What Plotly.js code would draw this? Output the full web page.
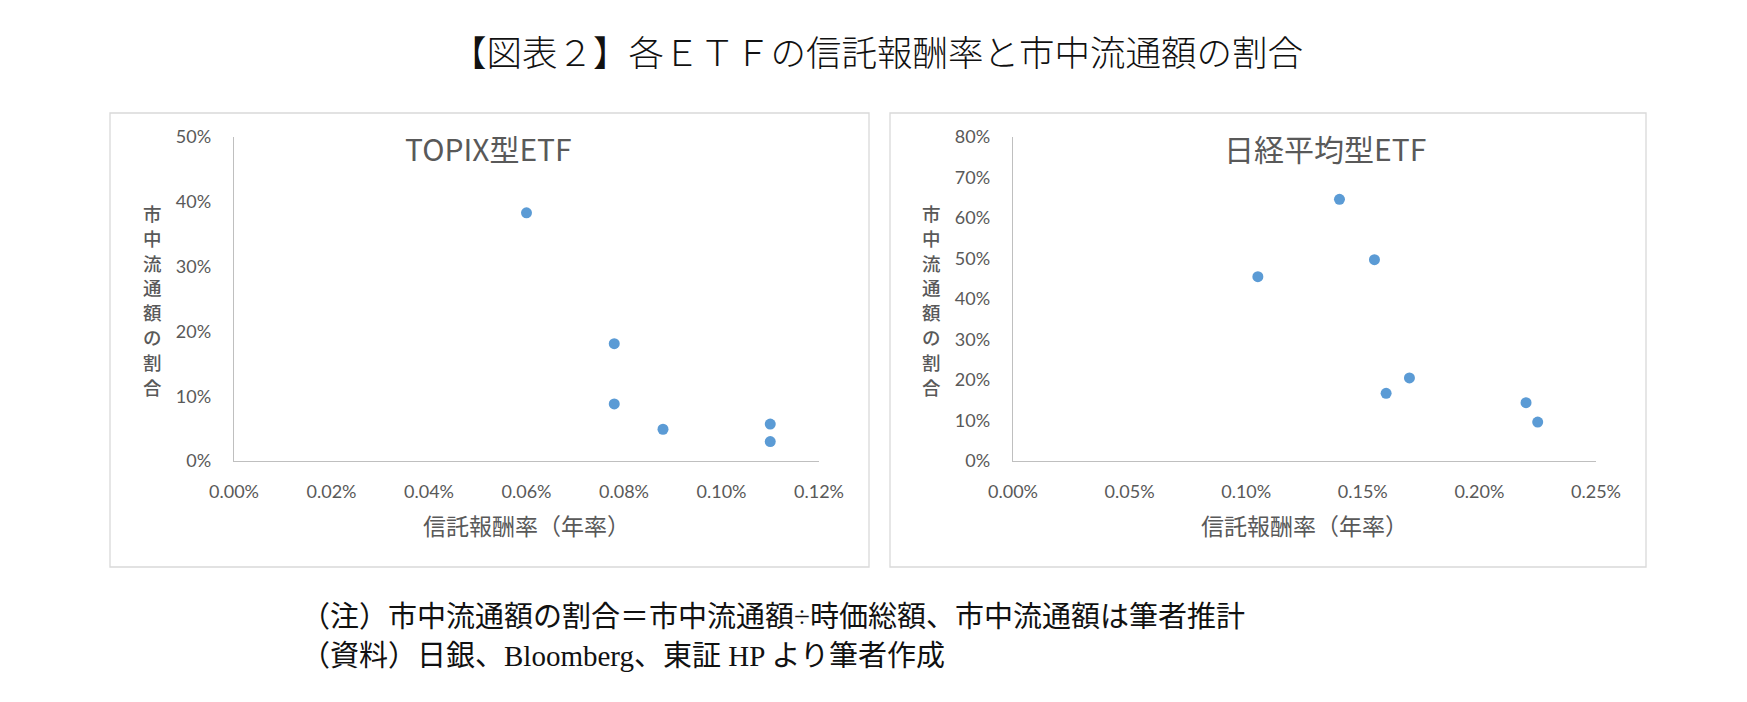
<!DOCTYPE html>
<html>
<head>
<meta charset="utf-8">
<script src="https://cdn.plot.ly/plotly-3.0.1.min.js"></script>
<style>
  html, body { margin: 0; padding: 0; background: #fff; }
  #chart { width: 1747px; height: 702px; }
</style>
</head>
<body>
<div id="chart"></div>
<script>
// TOPIX型ETF (信託報酬率 %, 市中流通額の割合 %)
const topixFee = [0.060, 0.078, 0.078, 0.088, 0.110, 0.110];
const topixShare = [38.3, 18.1, 8.8, 4.9, 5.7, 3.0];

// 日経平均型ETF
const nikkeiFee = [0.105, 0.140, 0.155, 0.160, 0.170, 0.220, 0.225];
const nikkeiShare = [45.5, 64.6, 49.7, 16.7, 20.5, 14.4, 9.6];

const mainTitle = '【図表２】各ＥＴＦの信託報酬率と市中流通額の割合';
const panelTitles = ['TOPIX型ETF', '日経平均型ETF'];
const xAxisTitle = '信託報酬率（年率）';
const yAxisTitle = '市中流通額の割合';
const notes = [
  '（注）市中流通額の割合＝市中流通額÷時価総額、市中流通額は筆者推計',
  '（資料）日銀、Bloomberg、東証 HP より筆者作成'
];

const W = 1747, H = 702;
const px = v => v / W;
const py = v => 1 - v / H;

const dotColor = '#5B9BD5';
const textColor = '#595959';
const axisColor = '#BFBFBF';
const sans = 'Noto Sans CJK JP, Noto Sans, sans-serif';
const tickFont = { family: 'Lato, Noto Sans, sans-serif', size: 18, color: textColor };
const serif = 'Liberation Serif, Noto Sans CJK JP, serif';

const traces = [
  {
    x: topixFee, y: topixShare, type: 'scatter', mode: 'markers',
    marker: { color: dotColor, size: 11 },
    xaxis: 'x', yaxis: 'y', cliponaxis: false, hoverinfo: 'x+y'
  },
  {
    x: nikkeiFee, y: nikkeiShare, type: 'scatter', mode: 'markers',
    marker: { color: dotColor, size: 11 },
    xaxis: 'x2', yaxis: 'y2', cliponaxis: false, hoverinfo: 'x+y'
  }
];

function xAxis(domain, max, step, anchor) {
  return {
    domain, anchor, range: [0, max], dtick: step, tick0: 0,
    tickformat: '.2f', ticksuffix: '%',
    showgrid: false, zeroline: false,
    showline: true, linecolor: axisColor, linewidth: 1.3,
    ticks: '', ticklabelstandoff: 14, tickfont: tickFont, fixedrange: true
  };
}
function yAxis(domain, max, anchor) {
  return {
    domain, anchor, range: [0, max], dtick: 10, tick0: 0,
    tickformat: '.0f', ticksuffix: '%',
    showgrid: false, zeroline: false,
    showline: true, linecolor: axisColor, linewidth: 1.3,
    ticks: '', ticklabelstandoff: 18, tickfont: tickFont, fixedrange: true
  };
}

const yDom = [py(461), py(137)];

const base = { xref: 'paper', yref: 'paper', showarrow: false, xanchor: 'center', yanchor: 'middle', borderpad: 0 };
const annotations = [
  { text: mainTitle, x: px(877), y: py(54), font: { family: serif, size: 35.5, weight: 300, color: '#111' } },
  { text: panelTitles[0], x: px(489), y: py(148), font: { family: sans, size: 30, color: textColor } },
  { text: panelTitles[1], x: px(1325), y: py(148), font: { family: sans, size: 30, color: textColor } },
  { text: xAxisTitle, x: px(526), y: py(525), font: { family: sans, size: 23, color: textColor } },
  { text: xAxisTitle, x: px(1304), y: py(525), font: { family: sans, size: 23, color: textColor } },
  { text: notes[0], x: px(300), y: py(617), xanchor: 'left', font: { family: serif, size: 29, color: '#111' } },
  { text: notes[1], x: px(300), y: py(656), xanchor: 'left', font: { family: serif, size: 29, color: '#111' } }
].map(a => Object.assign({}, base, a));

// vertical (stacked) y-axis titles, one character per line
yAxisTitle.split('').forEach((ch, i) => {
  [152, 932].forEach(cx => {
    annotations.push(Object.assign({}, base, {
      text: ch, x: px(cx), y: py(213 + i * 24.8),
      font: { family: sans, size: 18.5, weight: 500, color: textColor }
    }));
  });
});

const border = { color: '#D9D9D9', width: 1.3 };
const shapes = [
  { type: 'rect', xref: 'paper', yref: 'paper', x0: px(110), x1: px(869), y0: py(567), y1: py(113), line: border },
  { type: 'rect', xref: 'paper', yref: 'paper', x0: px(890), x1: px(1646), y0: py(567), y1: py(113), line: border }
];

const layout = {
  width: W, height: H,
  margin: { l: 0, r: 0, t: 0, b: 0 },
  paper_bgcolor: '#fff', plot_bgcolor: '#fff',
  showlegend: false,
  xaxis: xAxis([px(234), px(819)], 0.12, 0.02, 'y'),
  yaxis: yAxis(yDom, 50, 'x'),
  xaxis2: xAxis([px(1013), px(1596)], 0.25, 0.05, 'y2'),
  yaxis2: yAxis(yDom, 80, 'x2'),
  annotations, shapes,
  font: { family: sans, color: textColor }
};

Plotly.newPlot('chart', traces, layout, { displayModeBar: false, staticPlot: true });
</script>
</body>
</html>
